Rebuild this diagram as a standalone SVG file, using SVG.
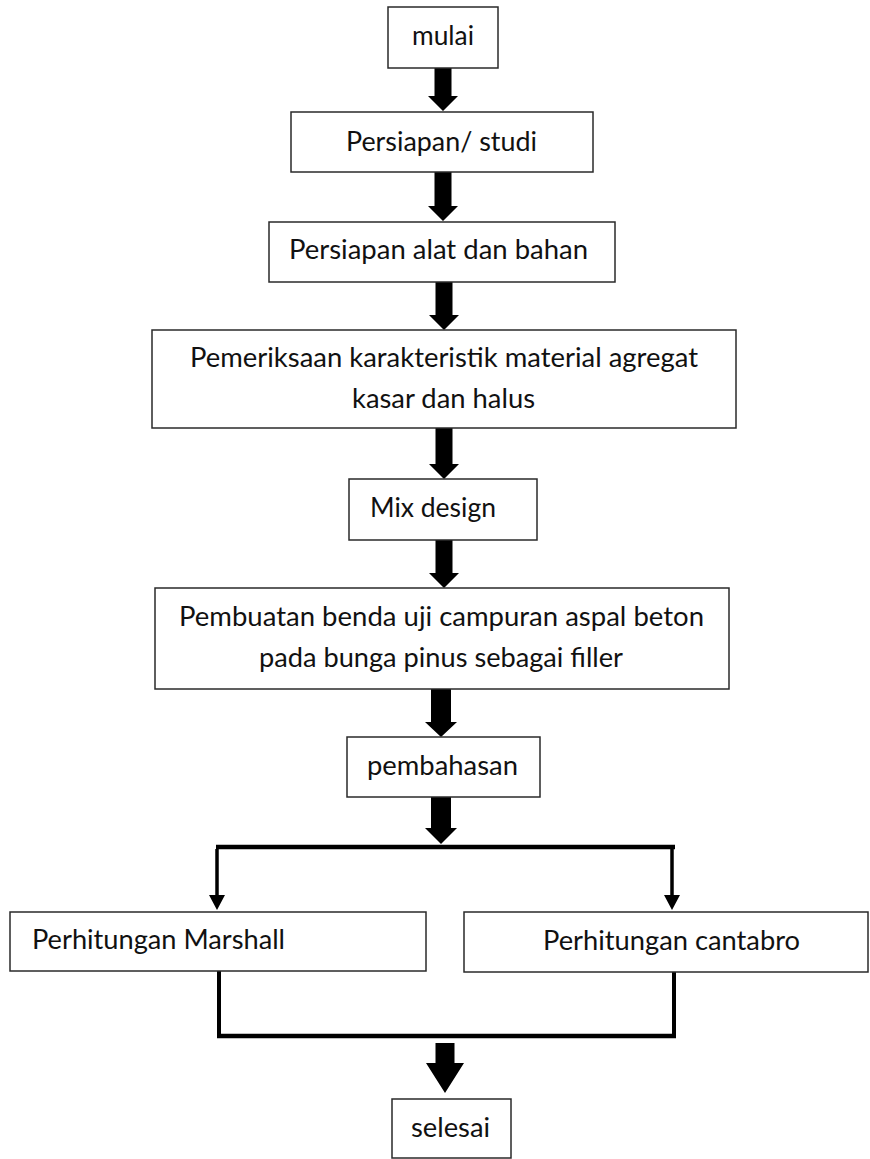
<svg xmlns="http://www.w3.org/2000/svg" width="870" height="1159" viewBox="0 0 870 1159">
<style>
.box{fill:#fff;stroke:#2a2a2a;stroke-width:1.5}
.t{font-family:Lato,"Open Sans","Liberation Sans",sans-serif;font-size:27px;fill:#111}
.blk{fill:#000;stroke:none}
.ln{stroke:#000;fill:none;stroke-linecap:butt}
</style>
<rect width="870" height="1159" fill="#fff"/>
<g id="connectors">
<polygon class="blk" points="434.5,68 451.5,68 451.5,96 458,96 443,111 428,96 434.5,96"/>
<polygon class="blk" points="434.5,172 451.5,172 451.5,206 458,206 443,221 428,206 434.5,206"/>
<polygon class="blk" points="435.5,282 452.5,282 452.5,315 459,315 444,330 429,315 435.5,315"/>
<polygon class="blk" points="435.5,428 452.5,428 452.5,464 459,464 444,479 429,464 435.5,464"/>
<polygon class="blk" points="435.5,540 452.5,540 452.5,573 459,573 444,588 429,573 435.5,573"/>
<polygon class="blk" points="431,689 451,689 451,722 457,722 441,737 425,722 431,722"/>
<polygon class="blk" points="431,797 451,797 451,828 457,828 441,844 425,828 431,828"/>
<line class="ln" x1="216" y1="847" x2="675" y2="847" stroke-width="4.5"/>
<line class="ln" x1="217" y1="849" x2="217" y2="895" stroke-width="3.5"/>
<polygon class="blk" points="209,895 225,895 217,910"/>
<line class="ln" x1="672" y1="849" x2="672" y2="895" stroke-width="3.5"/>
<polygon class="blk" points="664,895 680,895 672,910"/>
<line class="ln" x1="219" y1="971" x2="219" y2="1036" stroke-width="4"/>
<line class="ln" x1="674" y1="972" x2="674" y2="1036" stroke-width="4"/>
<line class="ln" x1="217" y1="1036" x2="676" y2="1036" stroke-width="4.5"/>
<polygon class="blk" points="435.5,1043 454.5,1043 454.5,1063 464,1063 445,1093 426,1063 435.5,1063"/>
</g>
<g id="n-mulai"><rect class="box" x="388" y="7" width="110" height="61"/><text class="t" x="412" y="45" textLength="62" lengthAdjust="spacingAndGlyphs">mulai</text></g>
<g id="n-persiapan"><rect class="box" x="291" y="112" width="302" height="60"/><text class="t" x="346" y="151" textLength="191" lengthAdjust="spacingAndGlyphs">Persiapan/ studi</text></g>
<g id="n-alat"><rect class="box" x="269" y="222" width="346" height="60"/><text class="t" x="289" y="259" textLength="299" lengthAdjust="spacingAndGlyphs">Persiapan alat dan bahan</text></g>
<g id="n-pemeriksaan"><rect class="box" x="152" y="330" width="584" height="98"/><text class="t" x="190" y="367" textLength="508" lengthAdjust="spacingAndGlyphs">Pemeriksaan karakteristik material agregat</text><text class="t" x="352" y="408" textLength="183" lengthAdjust="spacingAndGlyphs">kasar dan halus</text></g>
<g id="n-mix"><rect class="box" x="349" y="479" width="188" height="61"/><text class="t" x="370" y="517" textLength="126" lengthAdjust="spacingAndGlyphs">Mix design</text></g>
<g id="n-pembuatan"><rect class="box" x="155" y="588" width="574" height="101"/><text class="t" x="179" y="626" textLength="525" lengthAdjust="spacingAndGlyphs">Pembuatan benda uji campuran aspal beton</text><text class="t" x="259" y="667" textLength="364" lengthAdjust="spacingAndGlyphs">pada bunga pinus sebagai filler</text></g>
<g id="n-pembahasan"><rect class="box" x="347" y="737" width="193" height="60"/><text class="t" x="367" y="775" textLength="151" lengthAdjust="spacingAndGlyphs">pembahasan</text></g>
<g id="n-marshall"><rect class="box" x="10" y="912" width="416" height="59"/><text class="t" x="32" y="949" textLength="253" lengthAdjust="spacingAndGlyphs">Perhitungan Marshall</text></g>
<g id="n-cantabro"><rect class="box" x="464" y="912" width="404" height="60"/><text class="t" x="543" y="950" textLength="257" lengthAdjust="spacingAndGlyphs">Perhitungan cantabro</text></g>
<g id="n-selesai"><rect class="box" x="392" y="1099" width="119" height="59"/><text class="t" x="411" y="1137" textLength="79" lengthAdjust="spacingAndGlyphs">selesai</text></g>
</svg>
